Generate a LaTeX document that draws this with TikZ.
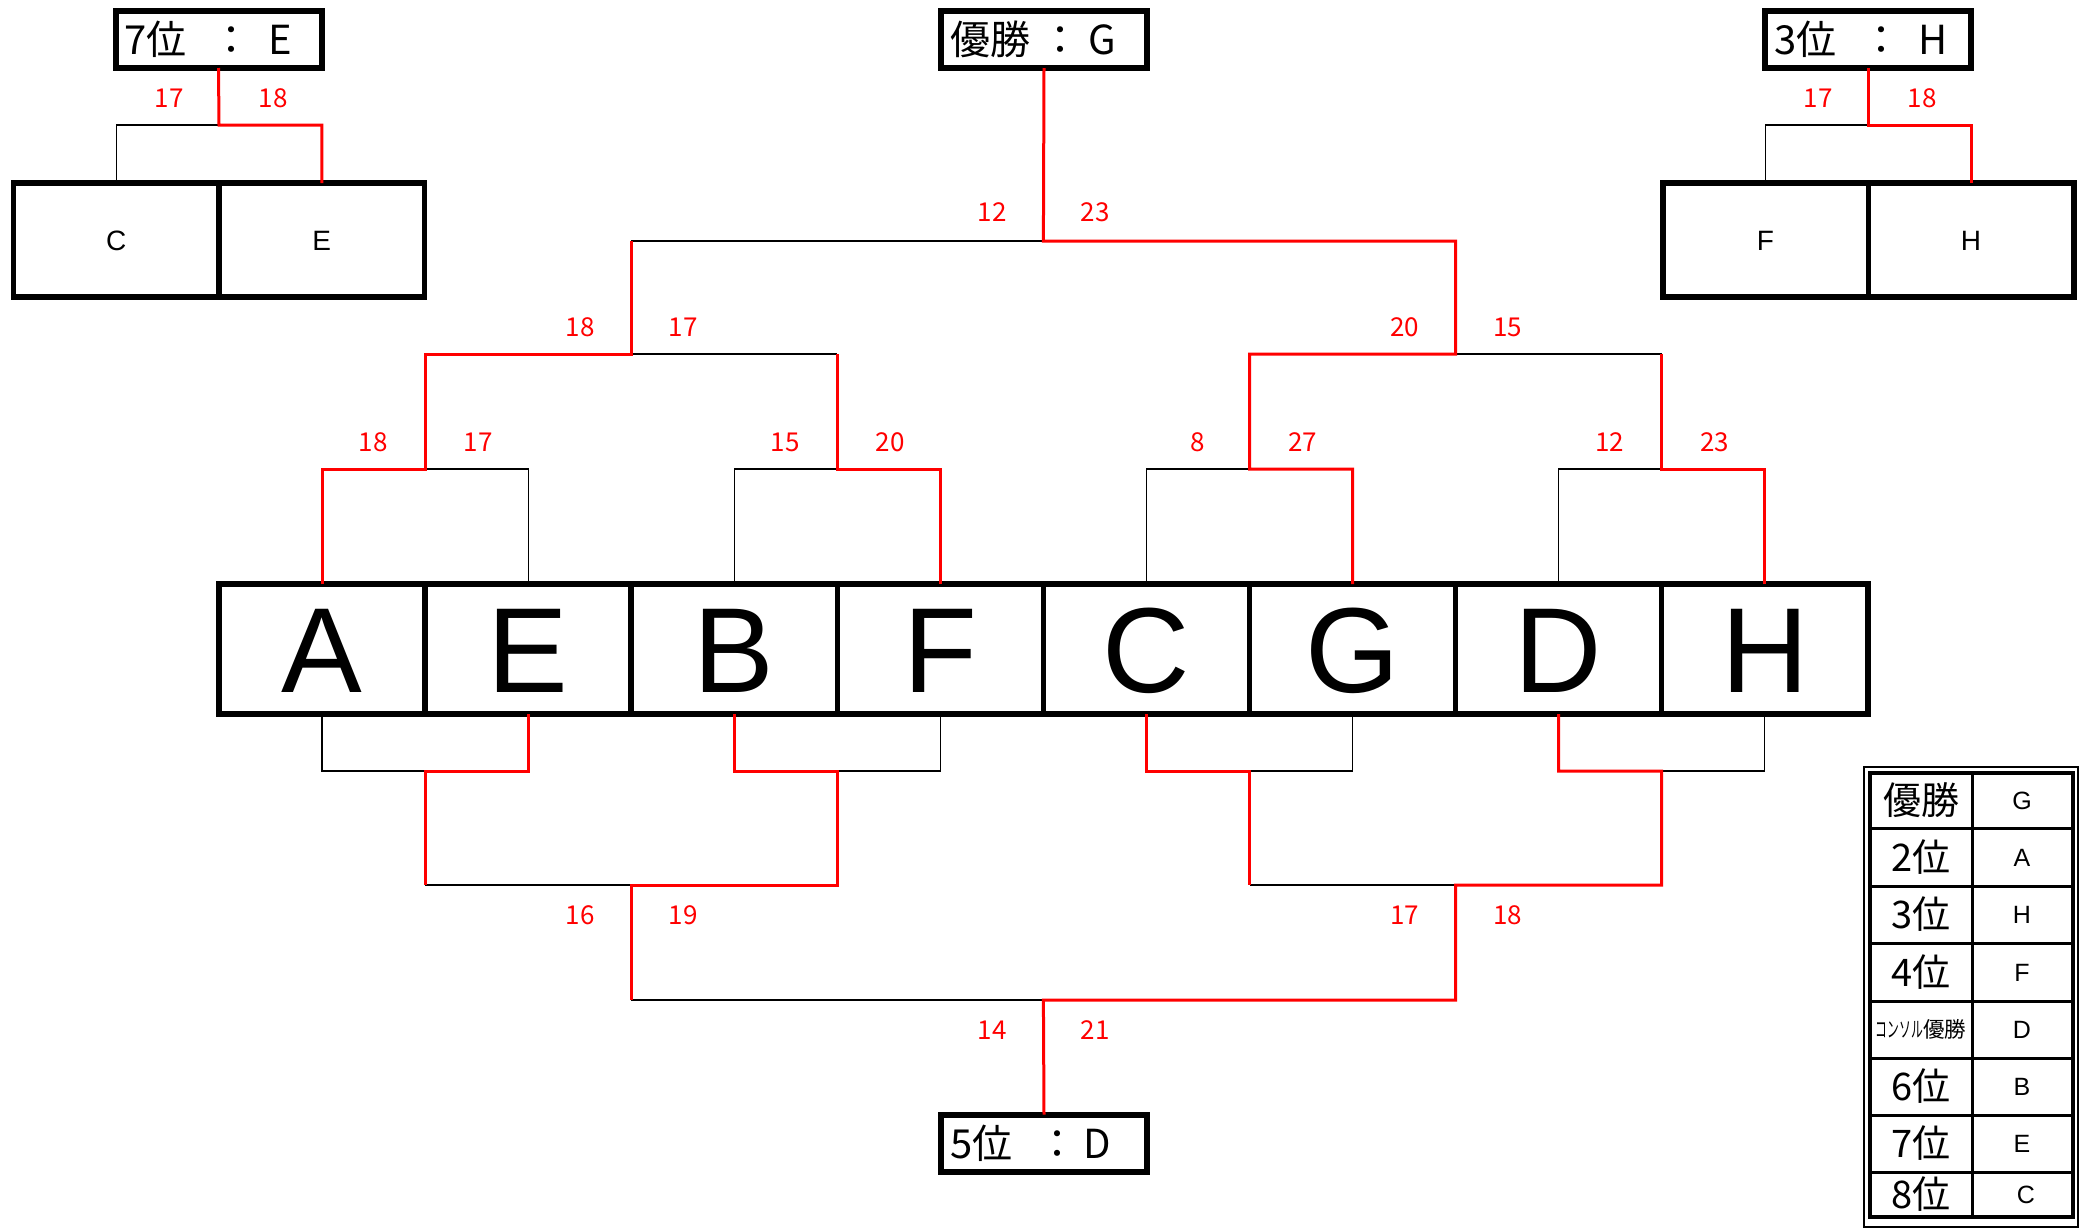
\documentclass[tikz,border=0pt]{standalone}
\usepackage{fontspec}
\setmainfont{Liberation Sans}
\newfontfamily\jp{Noto Sans CJK JP}
\begin{document}
\begin{tikzpicture}[x=1pt,y=-1pt,
  box/.style={draw, line width=5.5pt, outer sep=0pt, inner sep=0pt, rectangle},
  cell/.style={box, minimum width=206.1pt, minimum height=130pt,
    font=\fontsize{121}{121}\selectfont, text height=87pt, text depth=0pt},
  scell/.style={box, minimum width=205.5pt, minimum height=114pt,
    font=\fontsize{28}{28}\selectfont, text height=20pt, text depth=0pt},
  rankbox/.style={box, line width=6pt, minimum height=57pt, text width=188pt,
    inner xsep=9pt, align=left, font=\jp\fontsize{40}{40}\selectfont},
  win/.style={draw=red, line width=3pt},
  lose/.style={draw=black, line width=1.3pt},
  score/.style={text=red, inner sep=0pt, font=\jp\fontsize{26}{26}\selectfont},
  tl/.style={inner sep=0pt, font=\jp\fontsize{38}{38}\selectfont},
  tr/.style={inner sep=0pt, font=\fontsize{25}{25}\selectfont, text height=18pt, text depth=0pt}
]
\useasboundingbox (0,0) rectangle (2089,1229);

% ---- main row of teams
\node[cell] (cA) at (322.05,649) {A};
\node[cell] (cE) at (528.15,649) {E};
\node[cell] (cB) at (734.25,649) {B};
\node[cell] (cF) at (940.35,649) {F};
\node[cell] (cC) at (1146.45,649) {C};
\node[cell] (cG) at (1352.55,649) {G};
\node[cell] (cD) at (1558.65,649) {D};
\node[cell] (cH) at (1764.75,649) {H};

% ---- result boxes
\node[rankbox] (champ) at (1044,39.5) {優勝\hspace{10pt}：\hspace{8pt}G};
\node[rankbox] (fifth) at (1044,1143) {5位\hspace{25pt}：\hspace{6pt}D};
\node[rankbox] (seventh) at (218.5,39.5) {7位\hspace{25pt}：\hspace{17pt}E};
\node[rankbox] (third) at (1868,39.5) {3位\hspace{25pt}：\hspace{17pt}H};

% ---- side matches
\node[scell] (sC) at (116.25,240) {C};
\node[scell] (sE) at (321.75,240) {E};
\node[scell] (sF) at (1765.5,240) {F};
\node[scell] (sH) at (1971,240) {H};

% ---- junction coordinates (top)
\coordinate (t1a) at (425.1,469);
\coordinate (t1b) at (837.3,469);
\coordinate (t1c) at (1249.5,469);
\coordinate (t1d) at (1661.7,469);
\coordinate (t2a) at (631.2,354);
\coordinate (t2b) at (1455.6,354);
\coordinate (t2al) at (837.3,354);
\coordinate (t2bl) at (1661.7,354);
\coordinate (t3) at (1043.4,241);
\coordinate (t3a) at (631.2,241);
% ---- junction coordinates (bottom)
\coordinate (b1a) at (425.1,771);
\coordinate (b1b) at (837.3,771);
\coordinate (b1c) at (1249.5,771);
\coordinate (b1d) at (1661.7,771);
\coordinate (b2a) at (631.2,885);
\coordinate (b2b) at (1455.6,885);
\coordinate (b2al) at (425.1,885);
\coordinate (b2bl) at (1249.5,885);
\coordinate (b3) at (1043.4,1000);
\coordinate (b3a) at (631.2,1000);
% ---- side junctions
\coordinate (s7) at (219,125);
\coordinate (s3) at (1868,125);

% ---- losing paths (black)
\draw[lose] (cE.north) |- (t1a);
\draw[lose] (cB.north) |- (t1b);
\draw[lose] (cC.north) |- (t1c);
\draw[lose] (cD.north) |- (t1d);
\draw[lose] (t2al) -- (t2a);
\draw[lose] (t2bl) -- (t2b);
\draw[lose] (t3a) -- (t3);
\draw[lose] (cA.south) |- (b1a);
\draw[lose] (cF.south) |- (b1b);
\draw[lose] (cG.south) |- (b1c);
\draw[lose] (cH.south) |- (b1d);
\draw[lose] (b2al) -- (b2a);
\draw[lose] (b2bl) -- (b2b);
\draw[lose] (b3a) -- (b3);
\draw[lose] (sC.north) |- (s7);
\draw[lose] (sF.north) |- (s3);

% ---- winning paths (red)
\draw[win] (cA.north) |- (t1a) |- (t2a) -- (t3a);
\draw[win] (cF.north) |- (t1b) -- (t2al);
\draw[win] (cG.north) |- (t1c) |- (t2b) |- (t3) -- (champ.south);
\draw[win] (cH.north) |- (t1d) -- (t2bl);
\draw[win] (cE.south) |- (b1a) -- (b2al);
\draw[win] (cB.south) |- (b1b) |- (b2a) -- (b3a);
\draw[win] (cC.south) |- (b1c) -- (b2bl);
\draw[win] (cD.south) |- (b1d) |- (b2b) |- (b3) -- (fifth.north);
\draw[win] (sE.north) |- (s7) -- (seventh.south);
\draw[win] (sH.north) |- (s3) -- (third.south);

% ---- scores
\node[score] (p1) at (373.1,442) {18};
\node[score] (p2) at (478.1,442) {17};
\node[score] (p3) at (785.3,442) {15};
\node[score] (p4) at (890.3,442) {20};
\node[score] (p5) at (1197.5,442) {8};
\node[score] (p6) at (1302.5,442) {27};
\node[score] (p7) at (1609.7,442) {12};
\node[score] (p8) at (1714.7,442) {23};
\node[score] (p9) at (580.2,327) {18};
\node[score] (p10) at (683.2,327) {17};
\node[score] (p11) at (1404.6,327) {20};
\node[score] (p12) at (1507.6,327) {15};
\node[score] (p13) at (992.4,212) {12};
\node[score] (p14) at (1095.4,212) {23};
\node[score] (q1) at (580.2,915) {16};
\node[score] (q2) at (683.2,915) {19};
\node[score] (q3) at (1404.6,915) {17};
\node[score] (q4) at (1507.6,915) {18};
\node[score] (q5) at (992.4,1030) {14};
\node[score] (q6) at (1095.4,1030) {21};
\node[score] (r1) at (169,98) {17};
\node[score] (r2) at (273,98) {18};
\node[score] (r3) at (1818,98) {17};
\node[score] (r4) at (1922,98) {18};

% ---- ranking table
\draw[line width=1.5pt] (1864,767) rectangle (2078,1227);
\draw[line width=3.5pt] (1870,773) rectangle (2073,1217);
\draw[line width=3pt] (1972,773) -- (1972,1217);
\foreach \yy in {828.5,886,943.5,1001,1058,1115,1172}
  \draw[line width=3pt] (1870,\yy) -- (2073,\yy);
\node[tl] (k1) at (1921,800.5) {優勝};
\node[tl] (k2) at (1921,857) {2位};
\node[tl] (k3) at (1921,914.5) {3位};
\node[tl] (k4) at (1921,972) {4位};
\node[inner sep=0pt, font=\jp\fontsize{21.5}{21.5}\selectfont] (k5) at (1921,1029.5) {\scalebox{0.55}[1]{コンソル}優勝};
\node[tl] (k6) at (1921,1086.5) {6位};
\node[tl] (k7) at (1921,1143.5) {7位};
\node[tl] (k8) at (1921,1194.5) {8位};
\node[tr] (v1) at (2022,800.5) {G};
\node[tr] (v2) at (2022,857) {A};
\node[tr] (v3) at (2022,914.5) {H};
\node[tr] (v4) at (2022,972) {F};
\node[tr] (v5) at (2022,1029.5) {D};
\node[tr] (v6) at (2022,1086.5) {B};
\node[tr] (v7) at (2022,1143.5) {E};
\node[tr] (v8) at (2026,1194.5) {C};
\end{tikzpicture}
\end{document}
